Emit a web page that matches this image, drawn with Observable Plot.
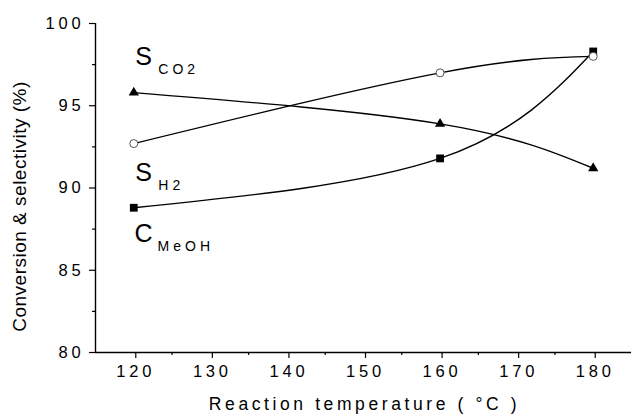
<!DOCTYPE html>
<html><head><meta charset="utf-8">
<script src="https://cdn.jsdelivr.net/npm/d3@7"></script>
<script src="https://cdn.jsdelivr.net/npm/@observablehq/plot@0.6"></script>
<style>
body{margin:0;background:#fff;}
#chart svg{font-family:"Liberation Sans",Arial,sans-serif;}
</style></head><body><div id="chart"></div>
<script>
const temperatures = [120, 160, 180];
const sCO2 = [92.7, 97.0, 98.0];
const sH2 = [95.8, 93.9, 91.2];
const cMeOH = [88.8, 91.8, 98.3];
const xTicks = [120, 130, 140, 150, 160, 170, 180];
const xMinor = [125, 135, 145, 155, 165, 175];
const yTicks = [80, 85, 90, 95, 100];
const yMinor = [82.5, 87.5, 92.5, 97.5];
const labelMain = ["S", "S", "C"];
const labelSub = ["CO2", "H2", "MeOH"];
const labelX = [120.2, 120.2, 120.1];
const labelY = [97.45, 90.45, 86.7];

const rows = (vals, name) => temperatures.map((t, i) => ({t, v: vals[i], name}));
const co2 = rows(sCO2, "SCO2"), h2 = rows(sH2, "SH2"), meoh = rows(cMeOH, "CMeOH");
const labels = labelMain.map((m, i) => ({m, s: labelSub[i], x: labelX[i], y: labelY[i]}));

const lineOpts = {x: "t", y: "v", curve: "natural", stroke: "black", strokeWidth: 1.4};

const chart = Plot.plot({
  width: 631, height: 417,
  marginLeft: 95, marginRight: 0, marginTop: 23, marginBottom: 65,
  style: {fontFamily: "Liberation Sans, Arial, sans-serif", color: "black", background: "white"},
  x: {domain: [115, 185]},
  y: {domain: [80, 100]},
  marks: [
    Plot.axisX(xTicks, {tickSize: 6, tickPadding: 7, fontSize: 16.5, label: null, stroke: "black", strokeWidth: 1.2, dx: 2}),
    Plot.axisX(xMinor, {tickSize: 3, tickFormat: () => "", label: null, stroke: "black", strokeWidth: 1.2}),
    Plot.axisY(yTicks, {tickSize: 6, tickPadding: 5, fontSize: 16.5, label: null, stroke: "black", strokeWidth: 1.2}),
    Plot.axisY(yMinor, {tickSize: 3, tickFormat: () => "", label: null, stroke: "black", strokeWidth: 1.2}),
    Plot.ruleY([80], {stroke: "black", strokeWidth: 1.4}),
    Plot.ruleX([115], {stroke: "black", strokeWidth: 1.4}),
    Plot.line(co2, lineOpts),
    Plot.line(h2, lineOpts),
    Plot.line(meoh, lineOpts),
    Plot.dot(meoh, {x: "t", y: "v", symbol: "square", r: 4.4, fill: "black", stroke: "none"}),
    Plot.dot(h2, {x: "t", y: "v", symbol: "triangle", r: 3.8, fill: "black", stroke: "none"}),
    Plot.dot(co2, {x: "t", y: "v", symbol: "circle", r: 4, fill: "white", stroke: "#555", strokeWidth: 1}),
    Plot.text(labels, {x: "x", y: "y", text: "m", textAnchor: "start", lineAnchor: "bottom", fontSize: 25, fill: "black"}),
    Plot.text(labels, {x: "x", y: "y", text: "s", textAnchor: "start", lineAnchor: "bottom", fontSize: 14, dx: 23, dy: 9, fill: "black"}),
    Plot.text(["Conversion & selectivity (%)"], {frameAnchor: "left", textAnchor: "middle", lineAnchor: "middle", dx: -76, dy: 18.5, rotate: -90, fontSize: 19, fill: "black"}),
    Plot.text(["Reaction temperature ( \u00B0C )"], {frameAnchor: "bottom", textAnchor: "middle", lineAnchor: "bottom", dy: 57, dx: 1, fontSize: 17.5, fill: "black"})
  ]
});
chart.querySelectorAll("text").forEach(t => {
  const s = t.textContent;
  if (/^\d+$/.test(s)) t.style.letterSpacing = "3.8px";
  else if (s.startsWith("Reaction")) t.style.letterSpacing = "3.6px";
  else if (labelSub.includes(s)) t.style.letterSpacing = "4px";
  else if (s.startsWith("Conversion")) t.style.letterSpacing = "0.5px";
});
document.getElementById("chart").appendChild(chart);
</script></body></html>
